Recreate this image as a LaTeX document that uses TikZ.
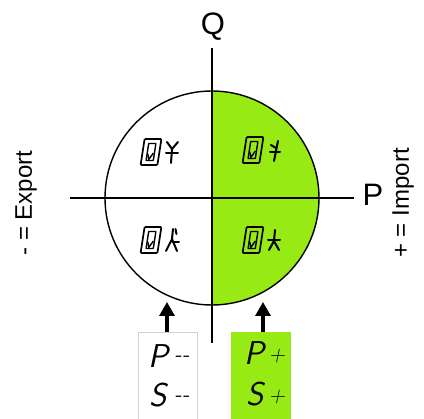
\documentclass[tikz,border=0pt]{standalone}
\usepackage{fontspec}
\setmainfont{Liberation Sans}
\usetikzlibrary{arrows.meta}
\definecolor{lcdgreen}{RGB}{152,234,20}
\tikzset{
  axis/.style={line width=1.4pt},
  uparrow/.style={line width=3.2pt, -{Triangle[length=14pt,width=15pt]}},
  lcd/.style={font=\sffamily\slshape\fontsize{33}{33}\selectfont, inner sep=0pt},
  lcdsmall/.style={font=\sffamily\slshape\fontsize{22}{22}\selectfont, inner sep=0pt},
  sym/.style={line width=2pt, line cap=round},
  zeroglyph/.pic={
    \draw[line width=1.7pt, rounded corners=1pt] (-6.4,-13) -- (10.4,-13) -- (6.4,13) -- (-10.4,13) -- cycle;
    \draw[line width=1.4pt, rounded corners=0.5pt] (-2.3,-8.5) -- (4.9,-8.5) -- (2.3,8.5) -- (-4.9,8.5) -- cycle;
    \draw[line width=1.4pt] (-3.2,2) -- (-2.2,7.5) -- (2.4,1);
  },
  symTL/.pic={
    \draw[sym] (-5,-10) -- (0,-3) -- (6,-10);
    \draw[sym] (0,-3) -- (-1,11);
    \draw[sym] (-6,1) -- (6,1);
  },
  symTR/.pic={
    \draw[sym] (-1,10) -- (3,-10);
    \draw[sym] (1,-3) -- (-4,-6);
    \draw[sym] (-5,1) -- (5,1);
  },
  symBL/.pic={
    \draw[sym] (-6,11) -- (0,-1) -- (5,11);
    \draw[sym] (0,-1) -- (1,-11);
    \draw[sym] (3.5,-11) -- (4.5,-6);
    \draw[sym] (0,2) -- (7,2);
  },
  symBR/.pic={
    \draw[sym] (1,-10) -- (0,1);
    \draw[sym] (-5,10) -- (0,1) -- (5,10);
    \draw[sym] (-6,0) -- (6,0);
  }
}
\begin{document}
\begin{tikzpicture}[x=1pt,y=-1pt]
\useasboundingbox (0,0) rectangle (424,419);
% green right half
\begin{scope}
  \clip (212,0) rectangle (424,419);
  \fill[lcdgreen] (212,198) circle[radius=107];
\end{scope}
\node[circle, draw, line width=1.4pt, minimum size=214pt, inner sep=0pt] (circ) at (212,198) {};
% axes
\coordinate (qtop) at (212,48);
\coordinate (qbot) at (212,343);
\coordinate (pleft) at (70,198);
\coordinate (pright) at (354,198);
\draw[axis] (qtop) -- (qbot);
\draw[axis] (pleft) -- (pright);
\node[font=\fontsize{31}{31}\selectfont] (qlab) at (213,27) {Q};
\node[font=\fontsize{31}{31}\selectfont] (plab) at (373,195) {P};
\node[rotate=90, font=\fontsize{24}{24}\selectfont] (exportlab) at (26,203) {- = Export};
\node[rotate=90, font=\fontsize{24}{24}\selectfont] (importlab) at (403,203) {+ = Import};
% quadrant displays
\pic at (151,152) {zeroglyph};
\pic at (253,150) {zeroglyph};
\pic at (151,240) {zeroglyph};
\pic at (253,240) {zeroglyph};
\pic at (172,152) {symTL};
\pic at (275,151) {symTR};
\pic at (172,240) {symBL};
\pic at (274,240) {symBR};
% boxes
\node[draw=gray!35, fill=white, line width=1pt, minimum width=59pt, minimum height=95pt, anchor=north, inner sep=0pt] (boxl) at (167.5,332) {};
\node[fill=lcdgreen, minimum width=60pt, minimum height=95pt, anchor=north, inner sep=0pt] (boxr) at (261,332) {};
\coordinate (tipl) at (167,302);
\coordinate (tipr) at (263,302);
\draw[uparrow] (boxl.north -| tipl) -- (tipl);
\draw[uparrow] (boxr.north -| tipr) -- (tipr);
% box texts
\node[lcd] (pl) at (158,356) {P};
\node[lcdsmall] (pld) at (182,359) {-\kern1pt-};
\node[lcd] (sl) at (158,395) {S};
\node[lcdsmall] (sld) at (182,399) {-\kern1pt-};
\node[lcd] (pr) at (254,353) {P};
\node[lcdsmall] (prp) at (277,356) {+};
\node[lcd] (sr) at (255,394) {S};
\node[lcdsmall] (srp) at (277,397) {+};
\end{tikzpicture}
\end{document}
